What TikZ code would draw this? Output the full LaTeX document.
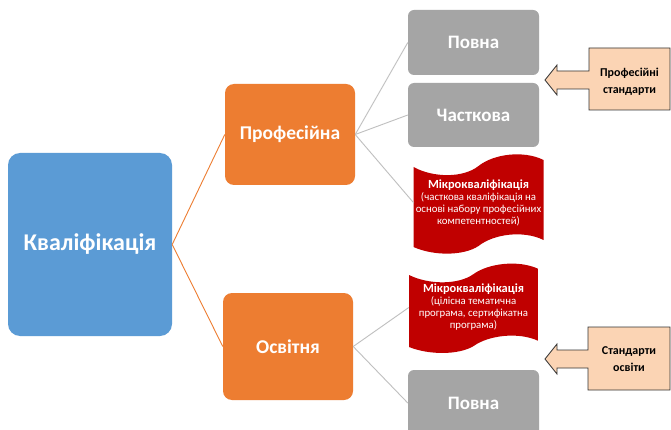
\documentclass[tikz,border=0pt]{standalone}
\usepackage{fontspec}
\setmainfont{Carlito}
\usetikzlibrary{calc}
\definecolor{cblue}{HTML}{5B9BD5}
\definecolor{corange}{HTML}{ED7D31}
\definecolor{cgray}{HTML}{A5A5A5}
\definecolor{cred}{HTML}{C00000}
\definecolor{cpeach}{HTML}{FBD4B4}
\definecolor{cline}{HTML}{BFBFBF}
\begin{document}
\begin{tikzpicture}[x=1pt,y=-1pt,
  mainbox/.style={fill=cblue, rounded corners=12pt, minimum width=164pt, minimum height=183pt, inner sep=0pt,
    text=white, font=\bfseries\fontsize{24}{27}\selectfont},
  catbox/.style={fill=corange, rounded corners=9pt, minimum width=130pt, inner sep=0pt,
    text=white, font=\bfseries\fontsize{19.5}{22}\selectfont},
  leafbox/.style={fill=cgray, rounded corners=6pt, minimum width=131pt, minimum height=65pt, inner sep=0pt,
    text=white, font=\bfseries\fontsize{19}{22}\selectfont},
  flagtext/.style={text=white, align=center, inner sep=0pt, minimum width=129pt, minimum height=80pt,
    font=\fontsize{10.8}{12}\selectfont},
  flagfill/.style={fill=cred},
  stdtext/.style={align=center, inner sep=0pt, text=black, font=\bfseries\fontsize{12}{17}\selectfont},
  callout/.style={fill=cpeach, draw=black!80, line width=0.8pt},
  orangeline/.style={draw=corange, line width=0.9pt},
  grayline/.style={draw=cline, line width=0.9pt}]
\clip (0,0) rectangle (671,430);
\fill[white] (0,0) rectangle (671,430);

% main nodes
\node[mainbox] (kv) at (90,244.5) {Кваліфікація};
\node[catbox, minimum height=101pt] (pr) at (290,134.5) {Професійна};
\node[catbox, minimum height=107pt] (os) at (288,346.5) {Освітня};
\node[leafbox] (p1) at (473.5,42.5) {Повна};
\node[leafbox, minimum height=64pt] (ch) at (473.5,115) {Часткова};
\node[leafbox, minimum height=66pt] (p2) at (473.5,403) {Повна};

% flag shapes
\fill[flagfill, shift={(478.5,202)}] (-65,-35) .. controls (-45,-24) and (-15,-24) .. (0,-36)
  .. controls (15,-48) and (45,-52) .. (65,-42) -- (65,38)
  .. controls (45,28) and (15,32) .. (0,44) .. controls (-15,54) and (-45,54) .. (-65,45) -- cycle;
\node[flagtext] (mk1) at (478.5,203) {{\bfseries\fontsize{12.4}{15}\selectfont Мікрокваліфікація}\\
  (часткова кваліфікація на\\ основі набору професійних\\ компетентностей)};

\fill[flagfill, shift={(473.5,306.5)}, yscale=0.9, xscale=0.992] (-65,-35) .. controls (-45,-24) and (-15,-24) .. (0,-36)
  .. controls (15,-48) and (45,-52) .. (65,-42) -- (65,38)
  .. controls (45,28) and (15,32) .. (0,44) .. controls (-15,54) and (-45,54) .. (-65,45) -- cycle;
\node[flagtext, minimum height=72pt] (mk2) at (473.5,307.5) {{\bfseries\fontsize{12.4}{15}\selectfont Мікрокваліфікація}\\
  (цілісна тематична\\ програма, сертифікатна\\ програма)};

% connectors
\draw[orangeline] (kv.east) -- (pr.west);
\draw[orangeline] (kv.east) -- (os.west);
\draw[grayline] (pr.east) -- (p1.west);
\draw[grayline] (pr.east) -- (ch.west);
\draw[grayline] (pr.east) -- (mk1.west);
\draw[grayline] (os.east) -- (mk2.west);
\draw[grayline] (os.east) -- (p2.west);

% callouts
\draw[callout] (589,48) -- (670,48) -- (670,110) -- (589,110) -- (589,89) -- (557,89) -- (557,95)
  -- (545,80) -- (557,65) -- (557,71) -- (589,71) -- cycle;
\node[stdtext] (ps) at (629.5,82) {Професійні\\стандарти};

\draw[callout] (588,327) -- (670,327) -- (670,390) -- (588,390) -- (588,368) -- (557,368) -- (557,374)
  -- (545,359) -- (557,344) -- (557,350) -- (588,350) -- cycle;
\node[stdtext] (so) at (629,359) {Стандарти\\освіти};
\end{tikzpicture}
\end{document}
